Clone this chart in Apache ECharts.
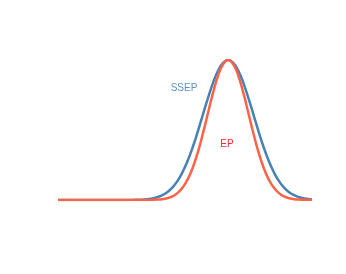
<!DOCTYPE html>
<html>
<head>
<meta charset="utf-8">
<script src="https://cdn.jsdelivr.net/npm/echarts@6/dist/echarts.min.js"></script>
<style>html,body{margin:0;padding:0;background:#fff}#c{width:346px;height:274px}</style>
</head>
<body>
<div id="c"></div>
<script>
var xs = [0, 1, 2, 3, 3.5, 3.9, 4.1, 4.3, 4.5, 4.7, 4.9, 5.1, 5.3, 5.5, 5.7, 5.9, 6.1, 6.3, 6.5, 6.7,
          6.9, 7.1, 7.3, 7.5, 7.7, 7.9, 8.1, 8.3, 8.5, 8.7, 8.9, 9.1, 9.3, 9.5, 9.7, 10];
var ssep = [0, 0, 0, 0.001, 0.006, 0.020, 0.034, 0.056, 0.089, 0.135, 0.198, 0.278, 0.375, 0.487, 0.607, 0.726, 0.835, 0.923, 0.980, 1,
            0.980, 0.923, 0.835, 0.726, 0.607, 0.487, 0.375, 0.278, 0.198, 0.135, 0.089, 0.056, 0.034, 0.020, 0.011, 0.004];
var ep = [0, 0, 0, 0, 0, 0.003, 0.006, 0.013, 0.026, 0.049, 0.087, 0.146, 0.229, 0.338, 0.471, 0.618, 0.763, 0.887, 0.970, 1,
          0.970, 0.887, 0.763, 0.618, 0.471, 0.338, 0.229, 0.146, 0.087, 0.049, 0.026, 0.013, 0.006, 0.003, 0.001, 0];
var seriesNames = ['SSEP', 'EP'];
var labelPos = [[4.96, 0.8], [6.65, 0.4]];

function pairs(v) { return xs.map(function (x, i) { return [x, v[i]]; }); }

var chart = echarts.init(document.getElementById('c'));
chart.setOption({
  animation: false,
  grid: { left: 58, right: 34, top: 60, bottom: 74 },
  xAxis: { type: 'value', min: 0, max: 10, show: false },
  yAxis: { type: 'value', min: 0, max: 1, show: false },
  series: [
    {
      name: seriesNames[0], type: 'line', data: pairs(ssep), showSymbol: false, smooth: true,
      lineStyle: { color: '#4682b4', width: 2.5 },
      markPoint: {
        symbol: 'circle', symbolSize: 0,
        data: [{ coord: labelPos[0], value: seriesNames[0] }],
        label: { show: true, position: 'inside', formatter: seriesNames[0], color: '#5b8fc5', fontSize: 10, fontFamily: 'Liberation Sans, Arial, sans-serif' }
      }
    },
    {
      name: seriesNames[1], type: 'line', data: pairs(ep), showSymbol: false, smooth: true,
      lineStyle: { color: '#ff6347', width: 2.5 },
      markPoint: {
        symbol: 'circle', symbolSize: 0,
        data: [{ coord: labelPos[1], value: seriesNames[1] }],
        label: { show: true, position: 'inside', formatter: seriesNames[1], color: '#ff2a2a', fontSize: 10, fontFamily: 'Liberation Sans, Arial, sans-serif' }
      }
    }
  ]
});
</script>
</body>
</html>
